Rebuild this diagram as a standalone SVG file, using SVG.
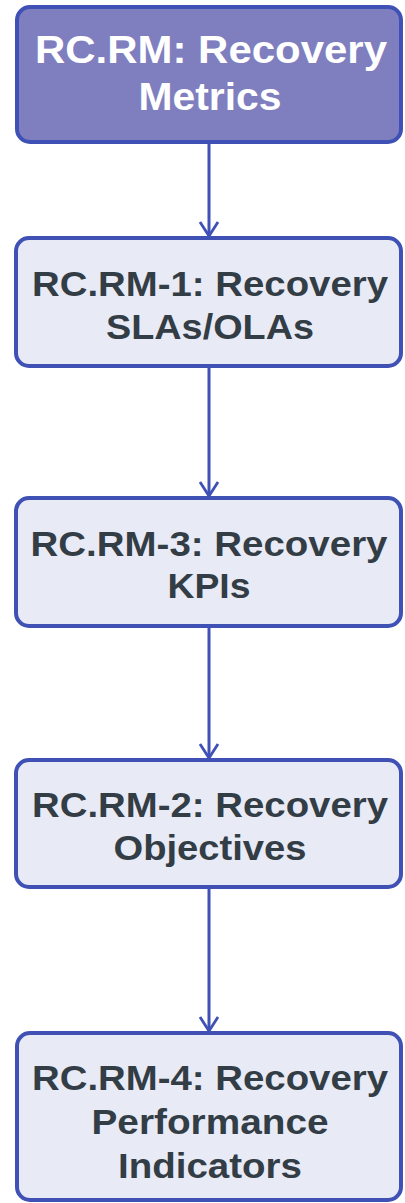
<svg xmlns="http://www.w3.org/2000/svg" width="405" height="1203" viewBox="0 0 405 1203">
<style>
.box{fill:#e8eaf6;stroke:#3f51b5;stroke-width:4}
.root{fill:#7f7fbf;stroke:#3f51b5;stroke-width:4}
.t{font-family:"Liberation Sans",Arial,sans-serif;font-weight:bold;font-size:35px;fill:#333d45;text-anchor:middle}
.tw{font-family:"Liberation Sans",Arial,sans-serif;font-weight:bold;font-size:38px;fill:#ffffff;text-anchor:middle}
.edge{stroke:#3f51b5;stroke-width:3;fill:none}
</style>
<defs>
<marker id="arr" markerWidth="18" markerHeight="22" refX="16" refY="11" orient="auto" markerUnits="userSpaceOnUse" viewBox="0 0 18 22">
<path d="M2,2 L16,11 L2,20" fill="none" stroke="#3f51b5" stroke-width="2.8"/>
</marker>
</defs>
<g id="connectors">
<line class="edge" x1="209" y1="144" x2="209" y2="236" marker-end="url(#arr)"/>
<line class="edge" x1="209" y1="368" x2="209" y2="496" marker-end="url(#arr)"/>
<line class="edge" x1="209" y1="628" x2="209" y2="758" marker-end="url(#arr)"/>
<line class="edge" x1="209" y1="889" x2="209" y2="1031" marker-end="url(#arr)"/>
</g>
<g id="rc-rm">
<rect class="root" x="17" y="7" width="384" height="135" rx="13"/>
<text class="tw" x="211" y="63" textLength="352" lengthAdjust="spacingAndGlyphs">RC.RM: Recovery</text>
<text class="tw" x="210" y="110" textLength="143" lengthAdjust="spacingAndGlyphs">Metrics</text>
</g>
<g id="rc-rm-1">
<rect class="box" x="16" y="238" width="385" height="128" rx="13"/>
<text class="t" x="210" y="296" textLength="356" lengthAdjust="spacingAndGlyphs">RC.RM-1: Recovery</text>
<text class="t" x="210" y="339" textLength="208" lengthAdjust="spacingAndGlyphs">SLAs/OLAs</text>
</g>
<g id="rc-rm-3">
<rect class="box" x="16" y="498" width="385" height="128" rx="13"/>
<text class="t" x="209" y="556" textLength="357" lengthAdjust="spacingAndGlyphs">RC.RM-3: Recovery</text>
<text class="t" x="209" y="598" textLength="83" lengthAdjust="spacingAndGlyphs">KPIs</text>
</g>
<g id="rc-rm-2">
<rect class="box" x="16" y="760" width="385" height="127" rx="13"/>
<text class="t" x="210" y="817" textLength="356" lengthAdjust="spacingAndGlyphs">RC.RM-2: Recovery</text>
<text class="t" x="210" y="860" textLength="193" lengthAdjust="spacingAndGlyphs">Objectives</text>
</g>
<g id="rc-rm-4">
<rect class="box" x="17" y="1033" width="384" height="167" rx="13"/>
<text class="t" x="210" y="1090" textLength="356" lengthAdjust="spacingAndGlyphs">RC.RM-4: Recovery</text>
<text class="t" x="210" y="1134" textLength="237" lengthAdjust="spacingAndGlyphs">Performance</text>
<text class="t" x="210" y="1178" textLength="184" lengthAdjust="spacingAndGlyphs">Indicators</text>
</g>
</svg>
